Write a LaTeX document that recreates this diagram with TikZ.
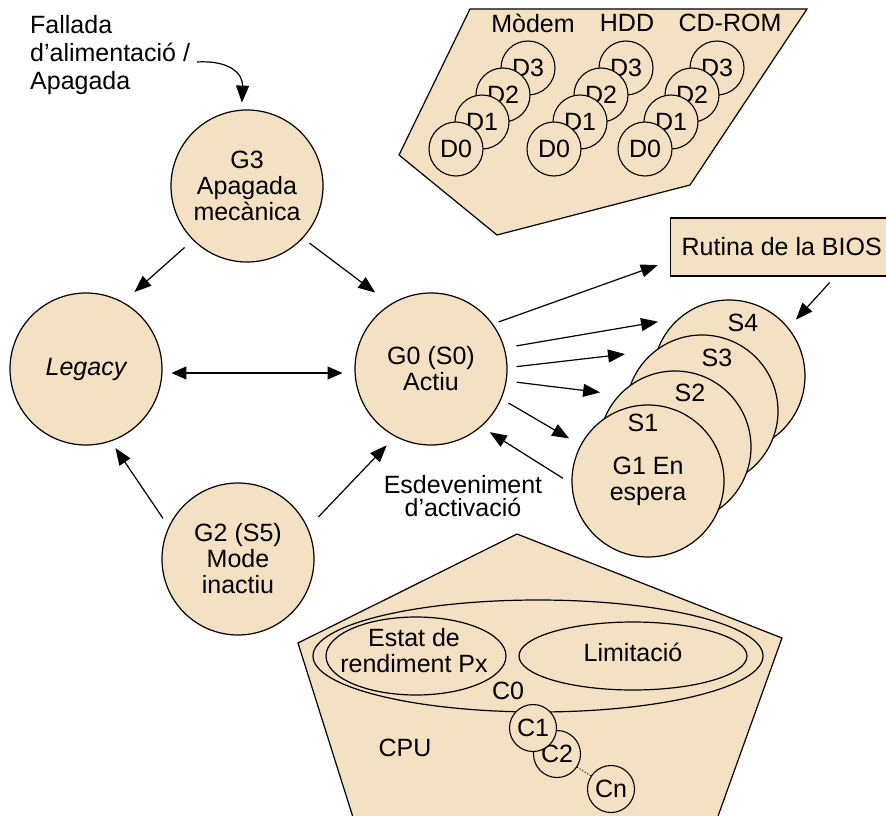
\documentclass[tikz,border=0pt]{standalone}
\usepackage{fontspec}
\setmainfont{Liberation Sans}
\usepackage{xcolor}
\usepackage{tikz}
\usetikzlibrary{arrows.meta}
\definecolor{beix}{RGB}{244,224,194}

\tikzset{
  estat/.style={circle,draw,fill=beix,line width=1.2pt,minimum size=152pt,inner sep=0pt,align=center},
  dpetit/.style={circle,draw,fill=beix,line width=1.1pt,minimum size=54pt,inner sep=0pt},
  cpetit/.style={circle,draw,fill=beix,line width=1.1pt,minimum size=47pt,inner sep=0pt},
  fletxa/.style={line width=1.2pt,-{Triangle[length=17pt,width=13pt]}},
  doblefletxa/.style={line width=1.2pt,{Triangle[length=15pt,width=13pt]}-{Triangle[length=15pt,width=13pt]}}
}

\begin{document}
\begin{tikzpicture}[x=1pt,y=-1pt,font=\fontsize{25}{26}\selectfont]
		\clip (0,0) rectangle (886,816);

		% dispositius
		\filldraw[fill=beix,line width=1.2pt] (470,9) -- (807,9) -- (690,185) -- (497,235) -- (399,155) -- cycle;
		\node (modem) at (533,23) {Mòdem};
		\node (hdd) at (627,23) {HDD};
		\node (cdrom) at (730,23) {CD-ROM};
		\node[dpetit] (md3) at (528,68) {D3};
		\node[dpetit] (md2) at (503,95) {D2};
		\node[dpetit] (md1) at (482,122) {D1};
		\node[dpetit] (md0) at (456,149) {D0};
		\node[dpetit] (hd3) at (626,68) {D3};
		\node[dpetit] (hd2) at (601,95) {D2};
		\node[dpetit] (hd1) at (580,122) {D1};
		\node[dpetit] (hd0) at (554,149) {D0};
		\node[dpetit] (cd3) at (717,68) {D3};
		\node[dpetit] (cd2) at (692,95) {D2};
		\node[dpetit] (cd1) at (671,122) {D1};
		\node[dpetit] (cd0) at (645,149) {D0};

		\node[draw,fill=beix,line width=1.2pt,anchor=west,inner xsep=11pt,minimum height=58pt] (bios) at (670,247) {Rutina de la BIOS};

		% CPU
		\filldraw[fill=beix,line width=1.2pt] (517,534) -- (782,638) -- (713,830) -- (357,830) -- (298,643) -- cycle;
		\draw[line width=1.2pt] (538,656) ellipse (225 and 56);
		\draw[line width=1.2pt] (416,656) ellipse (90 and 39);
		\draw[line width=1.2pt] (633,656) ellipse (114 and 34);
		\node[align=center,inner sep=0pt] (px) at (414,651) {Estat de\\rendiment Px};
		\node (limit) at (633,652) {Limitació};
		\node (c0) at (508,691) {C0};
		\node (cpu) at (405,748) {CPU};
		\node[cpetit] (c2) at (557,754) {C2};
		\node[cpetit] (c1) at (533,728) {C1};
		\node[cpetit] (cn) at (611,789) {Cn};
		\draw[dotted,line width=1pt] (c2) -- (cn);

		% estats globals
		\node[estat] (g3) at (247,186) {G3\\Apagada\\mecànica};
		\node[estat] (legacy) at (86,369) {\itshape Legacy};
		\node[estat] (g0) at (431,369) {G0 (S0)\\Actiu};
		\node[estat] (g2) at (238,559) {G2 (S5)\\Mode\\inactiu};

		\node[estat] (s4) at (729,376) {};
		\node (s4t) at (743,323) {S4};
		\node[estat] (s3) at (702,411) {};
		\node (s3t) at (717,358) {S3};
		\node[estat] (s2) at (675,447) {};
		\node (s2t) at (690,393) {S2};
		\node[estat] (g1) at (648,481) {G1 En\\espera};
		\node (s1t) at (643,423) {S1};

		\node[align=left,anchor=west,inner sep=0pt,font=\fontsize{25}{28}\selectfont] (fallada) at (30,55) {Fallada\\d’alimentació /\\Apagada};
		\coordinate (fa) at (197,62);
		\node[align=center,font=\fontsize{25}{23}\selectfont] (desp) at (463,496) {Esdeveniment\\d’activació};

		% fletxes
		\draw[fletxa,shorten >=7pt] (fa) .. controls (230,60) and (243,74) .. (g3.94);
		\draw[fletxa,shorten <=11pt,shorten >=15pt] (g3.225) -- (legacy.61);
		\draw[fletxa,shorten <=8pt,shorten >=19pt] (g3.-43) -- (g0.122);
		\draw[fletxa,shorten <=10pt,shorten >=8pt] (g2.155) -- (legacy.-71);
		\draw[fletxa,shorten <=15pt,shorten >=12pt] (g2.24) -- (g0.-118);
		\draw[doblefletxa,shorten <=9pt,shorten >=12pt] (legacy.-3) -- (g0.183);

		\draw[fletxa,shorten <=6pt,shorten >=13pt] (g0.36) -- (bios.187);
		\draw[fletxa,shorten <=12pt,shorten >=21pt] (g0.16) -- (s4.131);
		\draw[fletxa,shorten <=9pt,shorten >=30pt] (g0.1) -- (s3.128);
		\draw[fletxa,shorten <=10pt,shorten >=19pt] (g0.-9) -- (s2.137);
		\draw[fletxa,shorten <=8pt,shorten >=13pt] (g0.-23) -- (g1.152);
		\draw[fletxa,shorten <=10pt,shorten >=10pt] (g1.182) -- (g0.-49);
		\draw[fletxa,shorten <=8pt,shorten >=11pt] (bios.-29) -- (s4.39);
\end{tikzpicture}
\end{document}
